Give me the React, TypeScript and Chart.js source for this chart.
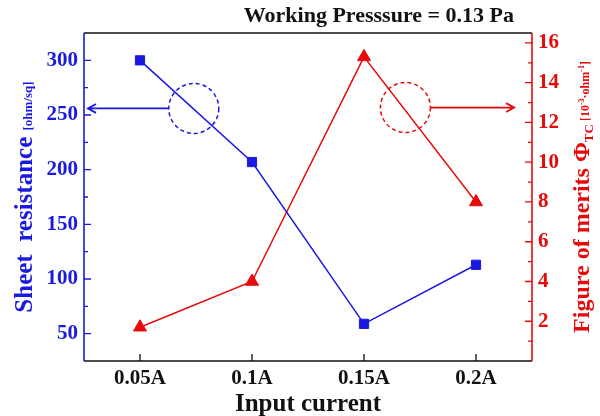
import React, { useEffect, useRef } from 'react';
import { Chart, registerables } from 'chart.js';

Chart.register(...registerables);

const categories = ['0.05A', '0.1A', '0.15A', '0.2A'];
const sheetResistance = [300, 207, 59, 113];
const figureOfMerit = [1.7, 4.0, 15.3, 8.0];
const leftTicks = [50, 100, 150, 200, 250, 300];
const leftMinorTicks = [75, 125, 175, 225, 275];
const rightTicks = [2, 4, 6, 8, 10, 12, 14, 16];
const rightMinorTicks = [1, 3, 5, 7, 9, 11, 13, 15];
const titleText = 'Working Presssure = 0.13 Pa';
const xTitle = 'Input current';

const BLUE = 'rgb(25,25,225)';
const RED = 'rgb(230,10,10)';
const SERIF = '"Liberation Serif", "Times New Roman", serif';

type Part = { text: string; size: number; bold?: boolean; dy?: number };

function drawRich(ctx: CanvasRenderingContext2D, parts: Part[], cx: number, baseline: number) {
  let total = 0;
  const widths = parts.map((p) => {
    ctx.font = `${p.bold === false ? '' : 'bold '}${p.size}px ${SERIF}`;
    const w = ctx.measureText(p.text).width;
    total += w;
    return w;
  });
  let x = cx - total / 2;
  parts.forEach((p, i) => {
    ctx.font = `${p.bold === false ? '' : 'bold '}${p.size}px ${SERIF}`;
    ctx.fillText(p.text, x, baseline + (p.dy || 0));
    x += widths[i];
  });
}

const decorPlugin = {
  id: 'decor',
  afterDraw(chart: any) {
    const { ctx, chartArea: a, scales } = chart;
    const xs = scales.x, yl = scales.y, yr = scales.y1;
    ctx.save();
    // frame
    ctx.lineWidth = 1.6;
    ctx.strokeStyle = '#111';
    ctx.beginPath();
    ctx.moveTo(a.left, a.top); ctx.lineTo(a.right, a.top);
    ctx.moveTo(a.left, a.bottom); ctx.lineTo(a.right, a.bottom);
    ctx.stroke();
    ctx.strokeStyle = BLUE;
    ctx.beginPath(); ctx.moveTo(a.left, a.top); ctx.lineTo(a.left, a.bottom); ctx.stroke();
    ctx.strokeStyle = RED;
    ctx.beginPath(); ctx.moveTo(a.right, a.top); ctx.lineTo(a.right, a.bottom); ctx.stroke();

    // ticks (inward)
    ctx.lineWidth = 1.3;
    ctx.strokeStyle = BLUE;
    ctx.beginPath();
    leftTicks.forEach((v) => { const y = yl.getPixelForValue(v); ctx.moveTo(a.left, y); ctx.lineTo(a.left + 7, y); });
    leftMinorTicks.forEach((v) => { const y = yl.getPixelForValue(v); ctx.moveTo(a.left, y); ctx.lineTo(a.left + 4, y); });
    ctx.stroke();
    ctx.strokeStyle = RED;
    ctx.beginPath();
    rightTicks.forEach((v) => { const y = yr.getPixelForValue(v); ctx.moveTo(a.right, y); ctx.lineTo(a.right - 7, y); });
    rightMinorTicks.forEach((v) => { const y = yr.getPixelForValue(v); ctx.moveTo(a.right, y); ctx.lineTo(a.right - 4, y); });
    ctx.stroke();
    ctx.strokeStyle = '#111';
    ctx.beginPath();
    categories.forEach((_, i) => { const x = xs.getPixelForValue(i); ctx.moveTo(x, a.bottom); ctx.lineTo(x, a.bottom - 7); });
    ctx.stroke();

    // dashed circles and arrows
    const r = 25;
    const bx = xs.getPixelForValue(0.48), by = yl.getPixelForValue(256);
    const rx = xs.getPixelForValue(2.37), ry = yr.getPixelForValue(12.75);
    ctx.lineWidth = 1.5;
    ctx.setLineDash([4, 3]);
    ctx.strokeStyle = BLUE;
    ctx.beginPath(); ctx.arc(bx, by, r, 0, Math.PI * 2); ctx.stroke();
    ctx.strokeStyle = RED;
    ctx.beginPath(); ctx.arc(rx, ry, r, 0, Math.PI * 2); ctx.stroke();
    ctx.setLineDash([]);
    ctx.lineWidth = 1.8;
    const head = 8;
    ctx.strokeStyle = BLUE;
    const bEnd = a.left + 4;
    ctx.beginPath();
    ctx.moveTo(bx - r, by); ctx.lineTo(bEnd, by);
    ctx.moveTo(bEnd + head, by - head * 0.55); ctx.lineTo(bEnd, by); ctx.lineTo(bEnd + head, by + head * 0.55);
    ctx.stroke();
    ctx.strokeStyle = RED;
    const rEnd = xs.getPixelForValue(3.34);
    ctx.beginPath();
    ctx.moveTo(rx + r, ry); ctx.lineTo(rEnd, ry);
    ctx.moveTo(rEnd - head, ry - head * 0.55); ctx.lineTo(rEnd, ry); ctx.lineTo(rEnd - head, ry + head * 0.55);
    ctx.stroke();

    // title
    ctx.fillStyle = '#111';
    ctx.textAlign = 'right';
    ctx.textBaseline = 'alphabetic';
    ctx.font = `bold 22px ${SERIF}`;
    ctx.fillText(titleText, 514, 22);

    // x axis title
    ctx.textAlign = 'center';
    ctx.font = `bold 25px ${SERIF}`;
    ctx.fillText(xTitle, (a.left + a.right) / 2, 411);

    // left axis title
    ctx.textAlign = 'left';
    const cy = (a.top + a.bottom) / 2;
    ctx.save();
    ctx.translate(32, cy);
    ctx.rotate(-Math.PI / 2);
    ctx.fillStyle = BLUE;
    drawRich(ctx, [
      { text: 'Sheet  resistance ', size: 25 },
      { text: '[ohm/sq]', size: 13 },
    ], 0, 0);
    ctx.restore();

    // right axis title
    ctx.save();
    ctx.translate(589, cy);
    ctx.rotate(-Math.PI / 2);
    ctx.fillStyle = RED;
    drawRich(ctx, [
      { text: 'Figure of merits \u03A6', size: 24 },
      { text: 'TC', size: 13, dy: 4 },
      { text: ' [10', size: 12 },
      { text: '-3', size: 8, dy: -5 },
      { text: '\u00B7ohm', size: 12 },
      { text: '-1', size: 8, dy: -5 },
      { text: ']', size: 12 },
    ], 0, 0);
    ctx.restore();

    ctx.restore();
  },
};

export default function App() {
  const ref = useRef<HTMLCanvasElement | null>(null);
  useEffect(() => {
    if (!ref.current) return;
    const tickFont = { family: SERIF, size: 21, weight: 'bold' as const };
    const chart = new Chart(ref.current, {
      type: 'line',
      data: {
        labels: categories,
        datasets: [
          {
            label: 'Sheet resistance',
            data: sheetResistance,
            yAxisID: 'y',
            borderColor: BLUE,
            backgroundColor: BLUE,
            borderWidth: 1.5,
            pointStyle: 'rect',
            pointRadius: 6.5,
            pointBorderWidth: 1,
            tension: 0,
          },
          {
            label: 'Figure of merits',
            data: figureOfMerit,
            yAxisID: 'y1',
            borderColor: RED,
            backgroundColor: RED,
            borderWidth: 1.5,
            pointStyle: 'triangle',
            pointRadius: 7.5,
            pointBorderWidth: 1,
            tension: 0,
          },
        ],
      },
      options: {
        animation: false,
        responsive: false,
        layout: { padding: { top: 33, left: 0, right: 0, bottom: 0 } },
        plugins: { legend: { display: false }, title: { display: false }, tooltip: { enabled: false } },
        scales: {
          x: {
            type: 'category',
            offset: true,
            grid: { display: false, drawTicks: false },
            border: { display: false },
            ticks: { color: '#111', font: tickFont, padding: 5, maxRotation: 0 },
            afterFit: (s: any) => { s.height = 55; },
          },
          y: {
            type: 'linear',
            position: 'left',
            min: 25,
            max: 325,
            grid: { display: false, drawTicks: false },
            border: { display: false },
            ticks: { color: BLUE, font: tickFont, padding: 6 },
            afterBuildTicks: (s: any) => { s.ticks = leftTicks.map((v) => ({ value: v })); },
            afterFit: (s: any) => { s.width = 84; },
          },
          y1: {
            type: 'linear',
            position: 'right',
            min: 0,
            max: 16.5,
            grid: { display: false, drawTicks: false },
            border: { display: false },
            ticks: { color: RED, font: tickFont, padding: 6 },
            afterBuildTicks: (s: any) => { s.ticks = rightTicks.map((v) => ({ value: v })); },
            afterFit: (s: any) => { s.width = 68; },
          },
        },
      },
      plugins: [decorPlugin],
    });
    return () => chart.destroy();
  }, []);
  return (
    <div style={{ position: 'fixed', left: 0, top: 0, width: 600, height: 416, background: '#fff' }}>
      <canvas ref={ref} width={600} height={416} style={{ width: 600, height: 416 }} />
    </div>
  );
}
